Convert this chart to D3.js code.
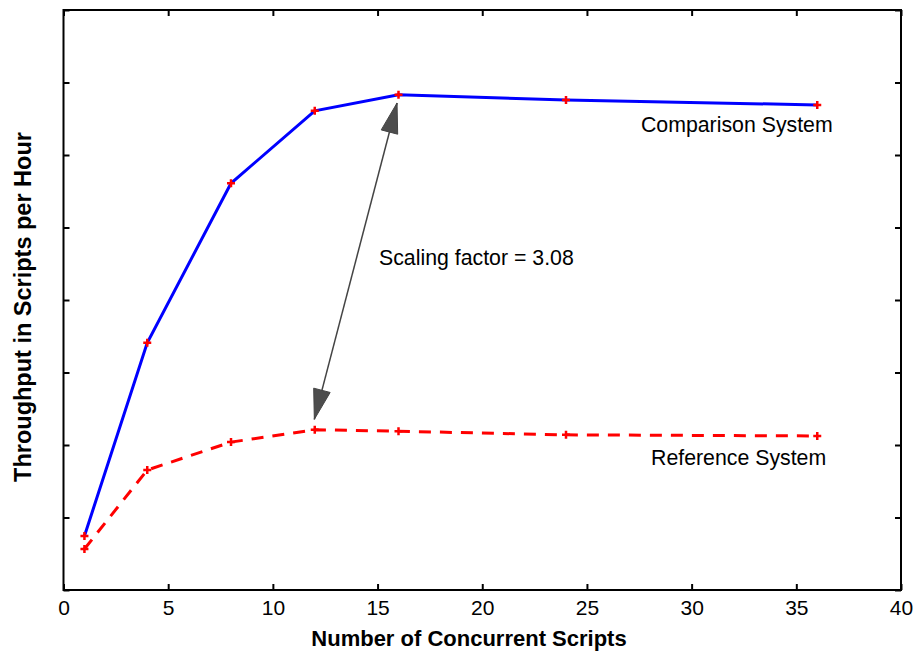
<!DOCTYPE html>
<html>
<head>
<meta charset="utf-8">
<script src="https://cdn.jsdelivr.net/npm/d3@7"></script>
<style>
  html, body { margin: 0; padding: 0; background: #fff; }
  svg { display: block; font-family: "Liberation Sans", Arial, sans-serif; }
</style>
</head>
<body>
<div id="chart"></div>
<script>
// Dados
const scripts = [1, 4, 8, 12, 16, 24, 36]
const comparison = [0.745, 3.41, 5.61, 6.61, 6.83, 6.76, 6.69]
const reference = [0.566, 1.655, 2.04, 2.21, 2.19, 2.14, 2.125]
const xTicks = [0, 5, 10, 15, 20, 25, 30, 35, 40]
const yTicks = [0, 1, 2, 3, 4, 5, 6, 7, 8]
const labels = [
  { text: "Comparison System", x: 27.58, y: 6.317 },
  { text: "Reference System", x: 28.06, y: 1.724 },
  { text: "Scaling factor = 3.08", x: 15.07, y: 4.483 },
]
const arrow = { x1: 11.98, y1: 2.354, x2: 15.93, y2: 6.717 }

function drawChart() {
  const widthRect = 916
  const heightRect = 657
  const margin = { top: 10, right: 15, bottom: 67, left: 63.5 }
  const width = widthRect - margin.left - margin.right
  const height = heightRect - margin.top - margin.bottom

  const svg = d3.select("#chart")
    .append("svg")
    .attr("width", widthRect)
    .attr("height", heightRect)

  const content = svg.append("g")
    .attr("transform", "translate(" + margin.left + "," + margin.top + ")")

  const x = d3.scaleLinear().domain([0, 40]).range([0, width])
  const y = d3.scaleLinear().domain([0, 8]).range([height, 0])

  // Eixos com marcas para dentro nos quatro lados
  const styleAxis = (g) => {
    g.select(".domain").remove()
    g.selectAll(".tick line").attr("stroke", "#000").attr("stroke-width", 2)
    g.selectAll(".tick text")
      .attr("fill", "#000")
      .style("font-size", "21px")
      .style("font-family", "'Liberation Sans', Arial, sans-serif")
  }

  content.append("g")
    .attr("transform", "translate(0," + height + ")")
    .call(d3.axisBottom(x).tickValues(xTicks).tickSizeInner(-6).tickSizeOuter(0))
    .call(styleAxis)
    .selectAll(".tick text").attr("dy", null).attr("y", 25)

  content.append("g")
    .call(d3.axisTop(x).tickValues(xTicks).tickSizeInner(-6).tickSizeOuter(0).tickFormat(""))
    .call(styleAxis)

  content.append("g")
    .call(d3.axisLeft(y).tickValues(yTicks).tickSizeInner(-6).tickSizeOuter(0).tickFormat(""))
    .call(styleAxis)

  content.append("g")
    .attr("transform", "translate(" + width + ",0)")
    .call(d3.axisRight(y).tickValues(yTicks).tickSizeInner(-6).tickSizeOuter(0).tickFormat(""))
    .call(styleAxis)

  // Moldura
  content.append("rect")
    .attr("width", width)
    .attr("height", height)
    .attr("fill", "none")
    .attr("stroke", "#000")
    .attr("stroke-width", 2)

  // Linhas das séries
  const line = d3.line()
    .x((d) => x(d[0]))
    .y((d) => y(d[1]))

  content.append("path")
    .datum(scripts.map((s, i) => [s, reference[i]]))
    .attr("d", line)
    .attr("fill", "none")
    .attr("stroke", "#ff0000")
    .attr("stroke-width", 3)
    .attr("stroke-dasharray", "12,9")

  content.append("path")
    .datum(scripts.map((s, i) => [s, comparison[i]]))
    .attr("d", line)
    .attr("fill", "none")
    .attr("stroke", "#0000ff")
    .attr("stroke-width", 3)

  // Marcadores em cruz
  const points = scripts.map((s, i) => [s, comparison[i]])
    .concat(scripts.map((s, i) => [s, reference[i]]))
  content.selectAll(".marker")
    .data(points)
    .enter()
    .append("path")
    .attr("class", "marker")
    .attr("transform", (d) => "translate(" + x(d[0]) + "," + y(d[1]) + ")")
    .attr("d", "M-4,0H4M0,-4V4")
    .attr("stroke", "#ff0000")
    .attr("stroke-width", 2.5)

  // Seta dupla
  const ax1 = x(arrow.x1), ay1 = y(arrow.y1)
  const ax2 = x(arrow.x2), ay2 = y(arrow.y2)
  content.append("line")
    .attr("x1", ax1).attr("y1", ay1)
    .attr("x2", ax2).attr("y2", ay2)
    .attr("stroke", "#444")
    .attr("stroke-width", 1.5)

  const headLen = 30
  const headHalf = 8.5
  function head(tx, ty, fx, fy) {
    const len = Math.hypot(tx - fx, ty - fy)
    const ux = (tx - fx) / len, uy = (ty - fy) / len
    const bx = tx - ux * headLen, by = ty - uy * headLen
    const px = -uy, py = ux
    content.append("path")
      .attr("d", "M" + tx + "," + ty +
        "L" + (bx + px * headHalf) + "," + (by + py * headHalf) +
        "L" + (bx - px * headHalf) + "," + (by - py * headHalf) + "Z")
      .attr("fill", "#4d4d4d")
      .attr("stroke", "#444")
      .attr("stroke-width", 1)
  }
  head(ax2, ay2, ax1, ay1)
  head(ax1, ay1, ax2, ay2)

  // Rótulos
  content.selectAll(".label")
    .data(labels)
    .enter()
    .append("text")
    .attr("class", "label")
    .attr("x", (d) => x(d.x))
    .attr("y", (d) => y(d.y))
    .attr("font-size", 21.3)
    .attr("fill", "#000")
    .text((d) => d.text)

  // Títulos dos eixos
  svg.append("text")
    .attr("x", 469)
    .attr("y", 646)
    .attr("text-anchor", "middle")
    .attr("font-size", 22)
    .attr("font-weight", "bold")
    .text("Number of Concurrent Scripts")

  svg.append("text")
    .attr("transform", "translate(31,307) rotate(-90)")
    .attr("text-anchor", "middle")
    .attr("font-size", 23.5)
    .attr("font-weight", "bold")
    .text("Throughput in Scripts per Hour")
}

drawChart()
</script>
</body>
</html>
